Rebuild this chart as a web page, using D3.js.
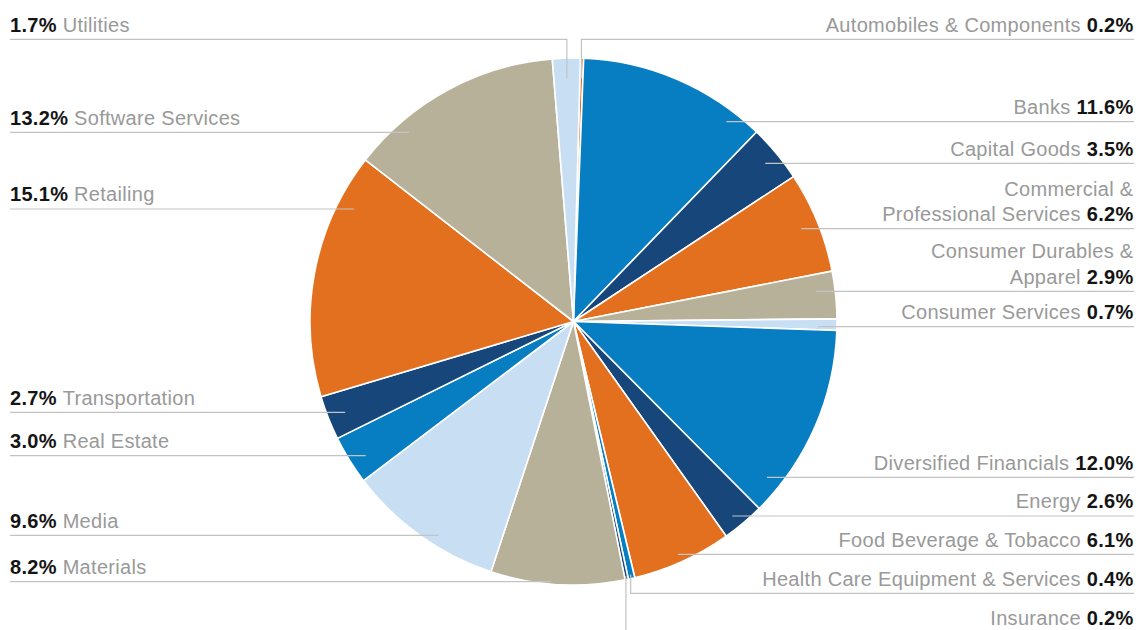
<!DOCTYPE html>
<html>
<head>
<meta charset="utf-8">
<script src="https://cdn.jsdelivr.net/npm/d3@7"></script>
<style>
  html, body { margin: 0; padding: 0; background: #fff; }
  svg { display: block; }
  text { font-family: "Liberation Sans", Arial, Helvetica, sans-serif; font-size: 20px; letter-spacing: 0.3px; }
</style>
</head>
<body>
<svg id="chart" width="1139" height="630"></svg>
<script>
// Industry weights (%), clockwise from twelve o'clock
const categories = [
  "Automobiles & Components", "Banks", "Capital Goods",
  "Commercial & Professional Services", "Consumer Durables & Apparel",
  "Consumer Services", "Diversified Financials", "Energy",
  "Food Beverage & Tobacco", "Health Care Equipment & Services",
  "Insurance", "Materials", "Media", "Real Estate", "Transportation",
  "Retailing", "Software Services", "Utilities"
];
const values = [0.2, 11.6, 3.5, 6.2, 2.9, 0.7, 12.0, 2.6, 6.1, 0.4, 0.2, 8.2, 9.6, 3.0, 2.7, 15.1, 13.2, 1.7];
const valueLabels = ["0.2%", "11.6%", "3.5%", "6.2%", "2.9%", "0.7%", "12.0%", "2.6%", "6.1%", "0.4%", "0.2%", "8.2%", "9.6%", "3.0%", "2.7%", "15.1%", "13.2%", "1.7%"];

// Slice fills
const BLUE = "#077ec2", NAVY = "#16467a", ORANGE = "#e3701e", TAN = "#b8b199", LIGHT = "#c8dff3";
const sliceColors = [ORANGE, BLUE, NAVY, ORANGE, TAN, LIGHT, BLUE, NAVY, ORANGE, BLUE, NAVY, TAN, LIGHT, BLUE, NAVY, ORANGE, TAN, LIGHT];

// Callout placement: side, y of the rule under the label, leader style
const labelLayout = [
  { side: "right", lineY: 39.3,  leader: "v", inset: 20 },
  { side: "right", lineY: 121.7, leader: "h" },
  { side: "right", lineY: 163.3, leader: "h" },
  { side: "right", lineY: 228.7, leader: "h", wrap: true },
  { side: "right", lineY: 291.3, leader: "h", wrap: true },
  { side: "right", lineY: 326.7, leader: "h" },
  { side: "right", lineY: 477.3, leader: "h" },
  { side: "right", lineY: 516.0, leader: "h" },
  { side: "right", lineY: 554.3, leader: "h" },
  { side: "right", lineY: 593.3, leader: "v", inset: 4 },
  { side: "right", lineY: 632.7, leader: "v", inset: 4 },
  { side: "left",  lineY: 581.7, leader: "h" },
  { side: "left",  lineY: 535.3, leader: "h" },
  { side: "left",  lineY: 455.7, leader: "h" },
  { side: "left",  lineY: 412.3, leader: "h" },
  { side: "left",  lineY: 209.0, leader: "h" },
  { side: "left",  lineY: 132.3, leader: "h" },
  { side: "left",  lineY: 39.3,  leader: "v", inset: 20 }
];

const width = 1139, height = 630;
const cx = 573.5, cy = 321.5, R = 263.5;
const rotation = 1.5 * Math.PI / 180;
const textRight = 1133.5, textLeft = 10;
const ruleRight = 1134, ruleLeft = 10;
const hInset = 19;
const baselineGap = 7.7, lineStep = 25.5;

const svg = d3.select("#chart");

const data = categories.map((c, i) => ({ name: c, value: values[i], label: valueLabels[i], color: sliceColors[i], layout: labelLayout[i] }));

const pie = d3.pie().sort(null).value(d => d.value)
  .startAngle(rotation).endAngle(rotation + 2 * Math.PI);
const arc = d3.arc().innerRadius(0).outerRadius(R);
const arcs = pie(data);

const g = svg.append("g").attr("transform", `translate(${cx},${cy})`);
g.selectAll("path.slice")
  .data(arcs)
  .join("path")
  .attr("class", "slice")
  .attr("d", arc)
  .attr("fill", d => d.data.color)
  .attr("stroke", "#fff")
  .attr("stroke-width", 1.6)
  .attr("stroke-linejoin", "round");

// Leader lines
function leaderPoints(a) {
  const L = a.data.layout;
  const dir = L.side === "right" ? 1 : -1;
  const edgeX = L.side === "right" ? ruleRight : ruleLeft;
  const y = L.lineY;
  if (L.leader === "h") {
    const dy = y - cy;
    const half = Math.sqrt(Math.max(0, R * R - dy * dy));
    const ax = cx + dir * (half - hInset);
    return [[edgeX, y], [ax, y]];
  }
  const mid = (a.startAngle + a.endAngle) / 2;
  const rr = R - L.inset;
  const px = cx + rr * Math.sin(mid);
  const py = cy - rr * Math.cos(mid);
  return [[edgeX, y], [px, y], [px, py]];
}

svg.append("g")
  .selectAll("path.leader")
  .data(arcs)
  .join("path")
  .attr("class", "leader")
  .attr("d", d => d3.line()(leaderPoints(d)))
  .attr("fill", "none")
  .attr("stroke", "#c3c3c3")
  .attr("stroke-width", 1.2);

// Callout text
const labels = svg.append("g");
arcs.forEach(a => {
  const L = a.data.layout;
  const baseline = L.lineY - baselineGap;
  let lines = [a.data.name];
  if (L.wrap) {
    const k = a.data.name.indexOf("&") + 1;
    lines = [a.data.name.slice(0, k), a.data.name.slice(k + 1)];
  }
  if (L.side === "right") {
    if (lines.length > 1) {
      labels.append("text")
        .attr("x", textRight).attr("y", baseline - lineStep)
        .attr("text-anchor", "end").attr("fill", "#999999")
        .text(lines[0]);
    }
    const t = labels.append("text")
      .attr("x", textRight).attr("y", baseline)
      .attr("text-anchor", "end");
    t.append("tspan").attr("fill", "#999999").text(lines[lines.length - 1] + " ");
    t.append("tspan").attr("fill", "#141414").attr("font-weight", "bold").text(a.data.label);
  } else {
    const t = labels.append("text")
      .attr("x", textLeft).attr("y", baseline)
      .attr("text-anchor", "start");
    t.append("tspan").attr("fill", "#141414").attr("font-weight", "bold").text(a.data.label + " ");
    t.append("tspan").attr("fill", "#999999").text(lines.join(" "));
  }
});
</script>
</body>
</html>
